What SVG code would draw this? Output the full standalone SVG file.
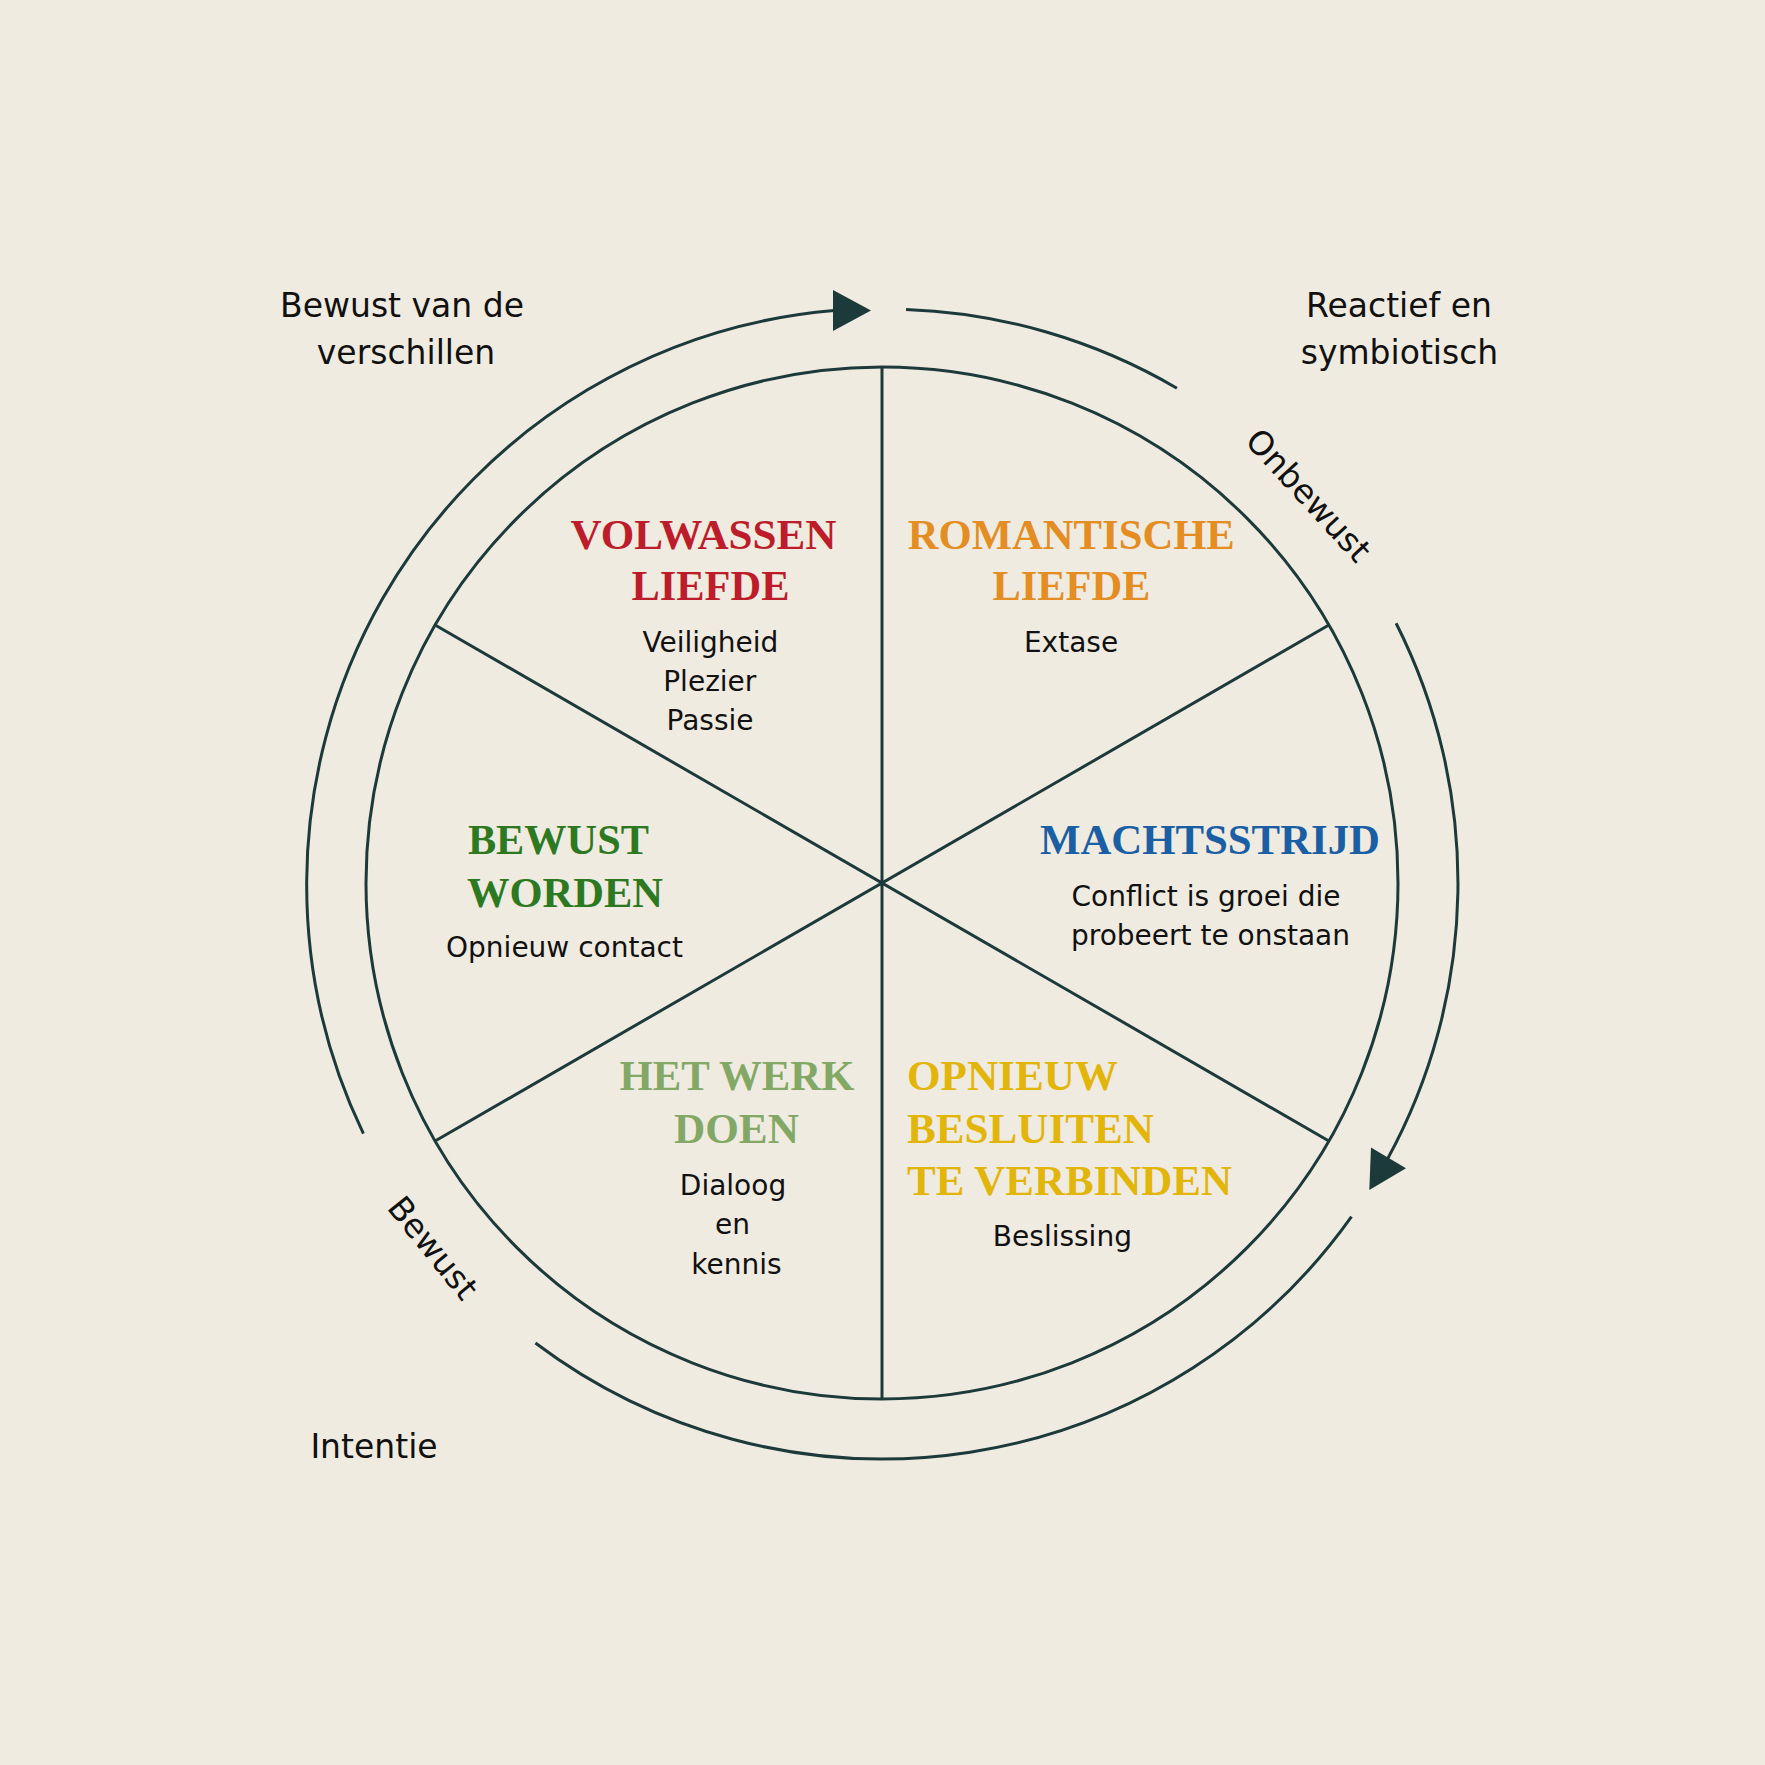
<svg xmlns="http://www.w3.org/2000/svg" width="1765" height="1765" viewBox="0 0 1765 1765">
<style>
.bg{fill:#f0ebe0}
.ln{fill:none;stroke:#1d3a3b;stroke-width:3}
.ah{fill:#1d3a3b;stroke:none}
.t{font-family:"Liberation Serif","Times New Roman",serif;font-weight:bold;font-size:43px}
.s{font-family:"DejaVu Sans","Noto Sans",sans-serif;font-size:28px;fill:#111;text-anchor:middle}
.o{font-family:"DejaVu Sans","Noto Sans",sans-serif;font-size:33px;fill:#111;text-anchor:middle}
.m{text-anchor:middle}
</style>
<rect class="bg" x="0" y="0" width="1765" height="1765"/>
<g id="connectors">
<path class="ln" d="M363.4,1133.7 A576,576 0 0 1 834,310.5"/>
<polygon class="ah" points="833,290 871,310.5 833,331"/>
<path class="ln" d="M906,309.5 A576,576 0 0 1 1176.9,388.2"/>
<path class="ln" d="M1396.1,623.3 A576,576 0 0 1 1387,1160"/>
<polygon class="ah" points="1371,1147.5 1406,1168.3 1369.3,1190"/>
<path class="ln" d="M1351.5,1216.7 A576,576 0 0 1 535.4,1343"/>
</g>
<g id="wheel">
<circle class="ln" cx="882" cy="883" r="516"/>
<path class="ln" d="M882,367 V1399 M435.1,625 L1328.9,1141 M435.1,1141 L1328.9,625"/>
</g>
<g id="volwassen-liefde">
<text class="t m" x="703.5" y="549" fill="#bd1d2a" textLength="266" lengthAdjust="spacingAndGlyphs">VOLWASSEN</text>
<text class="t m" x="710.5" y="600" fill="#bd1d2a" textLength="158" lengthAdjust="spacingAndGlyphs">LIEFDE</text>
<text class="s" x="710.4" y="651.7">Veiligheid</text>
<text class="s" x="709.8" y="690.7">Plezier</text>
<text class="s" x="710" y="730">Passie</text>
</g>
<g id="romantische-liefde">
<text class="t m" x="1071.3" y="549" fill="#e38d22" textLength="327" lengthAdjust="spacingAndGlyphs">ROMANTISCHE</text>
<text class="t m" x="1071.4" y="600" fill="#e38d22" textLength="158" lengthAdjust="spacingAndGlyphs">LIEFDE</text>
<text class="s" x="1071" y="651.7">Extase</text>
</g>
<g id="machtsstrijd">
<text class="t m" x="1210" y="854" fill="#1a5ea4" textLength="340" lengthAdjust="spacingAndGlyphs">MACHTSSTRIJD</text>
<text class="s" x="1206" y="906">Conflict is groei die</text>
<text class="s" x="1210.5" y="945">probeert te onstaan</text>
</g>
<g id="opnieuw-besluiten">
<text class="t" x="907" y="1090" fill="#e2b50b" textLength="211" lengthAdjust="spacingAndGlyphs">OPNIEUW</text>
<text class="t" x="907" y="1143" fill="#e2b50b" textLength="247" lengthAdjust="spacingAndGlyphs">BESLUITEN</text>
<text class="t" x="907" y="1195" fill="#e2b50b" textLength="325" lengthAdjust="spacingAndGlyphs">TE VERBINDEN</text>
<text class="s" x="1062.4" y="1246">Beslissing</text>
</g>
<g id="het-werk-doen">
<text class="t m" x="737" y="1090" fill="#83a866" textLength="235" lengthAdjust="spacingAndGlyphs">HET WERK</text>
<text class="t m" x="736.4" y="1143" fill="#83a866" textLength="125" lengthAdjust="spacingAndGlyphs">DOEN</text>
<text class="s" x="733" y="1195">Dialoog</text>
<text class="s" x="732.4" y="1234.3">en</text>
<text class="s" x="736.4" y="1274">kennis</text>
</g>
<g id="bewust-worden">
<text class="t m" x="558.4" y="854" fill="#2d7922" textLength="181" lengthAdjust="spacingAndGlyphs">BEWUST</text>
<text class="t m" x="565" y="907" fill="#2d7922" textLength="196" lengthAdjust="spacingAndGlyphs">WORDEN</text>
<text class="s" x="564.5" y="956.7">Opnieuw contact</text>
</g>
<g id="labels">
<text class="o" x="402" y="317">Bewust van de</text>
<text class="o" x="406" y="364">verschillen</text>
<text class="o" x="1399" y="317">Reactief en</text>
<text class="o" x="1399.5" y="364">symbiotisch</text>
<text class="o" x="374" y="1458">Intentie</text>
<text class="o" transform="translate(1300,503) rotate(47.5)">Onbewust</text>
<text class="o" transform="translate(424,1255) rotate(51)">Bewust</text>
</g>
</svg>
